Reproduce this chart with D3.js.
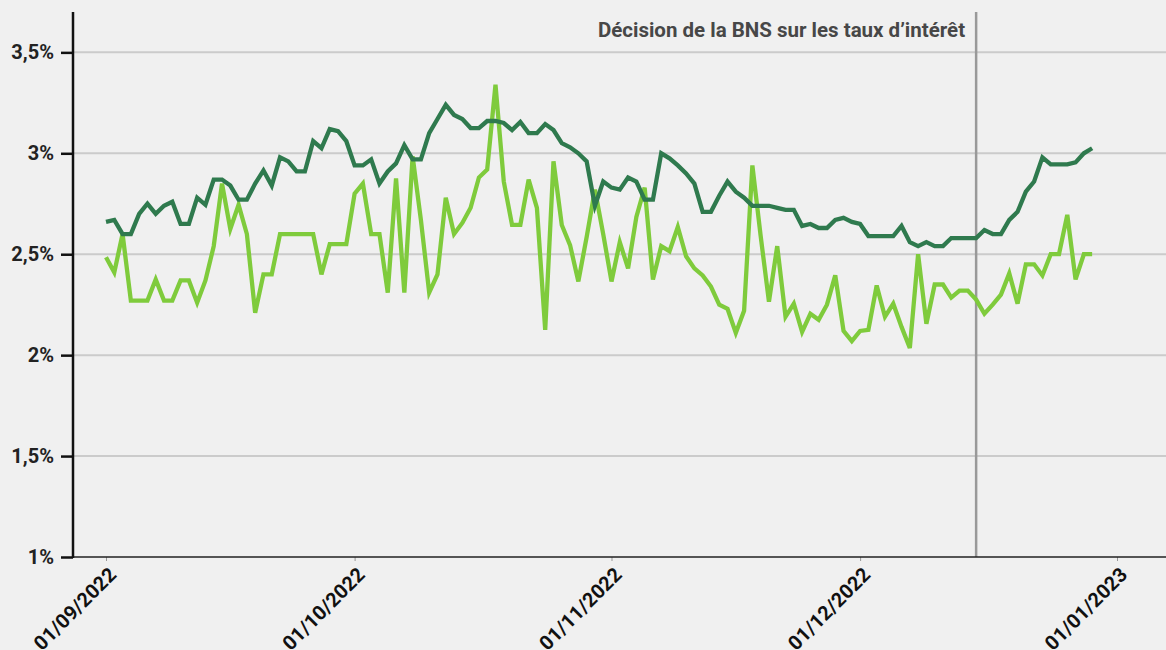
<!DOCTYPE html>
<html>
<head>
<meta charset="utf-8">
<script src="https://cdn.jsdelivr.net/npm/d3@7"></script>
<style>
  html, body { margin: 0; padding: 0; background: #f0f0f0; overflow: hidden; }
  svg { display: block; font-family: Roboto, "Noto Sans", sans-serif; }
</style>
</head>
<body>
<svg id="chart" width="1166" height="650"></svg>
<script>
// ---- Data ----
const startDate = "2022-09-01";
const endDate = "2022-12-29";

const seriesDark = [
  2.66, 2.67, 2.60, 2.60, 2.70, 2.75, 2.70, 2.74, 2.76, 2.65,
  2.65, 2.78, 2.745, 2.87, 2.87, 2.84, 2.77, 2.77, 2.85, 2.915,
  2.84, 2.98, 2.96, 2.91, 2.91, 3.06, 3.025, 3.12, 3.11, 3.06,
  2.94, 2.94, 2.97, 2.85, 2.91, 2.95, 3.04, 2.97, 2.97, 3.10,
  3.17, 3.24, 3.19, 3.17, 3.125, 3.125, 3.16, 3.16, 3.15, 3.115,
  3.155, 3.10, 3.10, 3.145, 3.115, 3.05, 3.03, 3.00, 2.96, 2.74,
  2.86, 2.83, 2.82, 2.88, 2.86, 2.77, 2.77, 3.00, 2.975, 2.94,
  2.90, 2.85, 2.71, 2.71, 2.79, 2.86, 2.81, 2.78, 2.74, 2.74,
  2.74, 2.73, 2.72, 2.72, 2.64, 2.65, 2.63, 2.63, 2.67, 2.68,
  2.66, 2.65, 2.59, 2.59, 2.59, 2.59, 2.64, 2.56, 2.54, 2.56,
  2.54, 2.54, 2.58, 2.58, 2.58, 2.58, 2.62, 2.60, 2.60, 2.67,
  2.71, 2.81, 2.86, 2.98, 2.945, 2.945, 2.945, 2.955, 3.00, 3.025
];

const seriesLight = [
  2.485, 2.41, 2.60, 2.27, 2.27, 2.27, 2.375, 2.27, 2.27, 2.37,
  2.37, 2.26, 2.37, 2.54, 2.85, 2.625, 2.745, 2.60, 2.21, 2.40,
  2.40, 2.60, 2.60, 2.60, 2.60, 2.60, 2.40, 2.55, 2.55, 2.55,
  2.80, 2.85, 2.60, 2.60, 2.31, 2.875, 2.31, 2.985, 2.67, 2.31,
  2.40, 2.78, 2.60, 2.655, 2.73, 2.88, 2.92, 3.34, 2.86, 2.645,
  2.645, 2.87, 2.73, 2.125, 2.96, 2.645, 2.545, 2.365, 2.585, 2.82,
  2.60, 2.365, 2.56, 2.43, 2.685, 2.83, 2.375, 2.54, 2.515, 2.635,
  2.49, 2.43, 2.395, 2.34, 2.25, 2.23, 2.11, 2.22, 2.94, 2.59,
  2.265, 2.54, 2.19, 2.255, 2.115, 2.205, 2.175, 2.25, 2.395, 2.12,
  2.07, 2.12, 2.125, 2.345, 2.19, 2.255, 2.14, 2.035, 2.50, 2.155,
  2.35, 2.35, 2.285, 2.32, 2.32, 2.275, 2.205, 2.25, 2.30, 2.405,
  2.255, 2.45, 2.45, 2.395, 2.50, 2.50, 2.695, 2.375, 2.50, 2.50
];

const xTickDates = ["2022-09-01", "2022-10-01", "2022-11-01", "2022-12-01", "2023-01-01"];
const yTicks = [1, 1.5, 2, 2.5, 3, 3.5];
const yTickLabels = ["1%", "1,5%", "2%", "2,5%", "3%", "3,5%"];
const eventDate = "2022-12-15";
const eventLabel = "Décision de la BNS sur les taux d’intérêt";

// ---- Setup ----
const W = 1166, H = 650;
const parse = d3.timeParse("%Y-%m-%d");
const fmt = d3.timeFormat("%d/%m/%Y");
const dates = d3.timeDay.range(parse(startDate), d3.timeDay.offset(parse(endDate), 1));

const axisX = 73, plotTop = 12, plotBottom = 557;

const x = d3.scaleTime()
  .domain([parse("2022-09-01"), parse("2023-01-01")])
  .range([106, 1117]);
const y = d3.scaleLinear().domain([1, 3.7]).range([plotBottom, plotTop]);

const svg = d3.select("#chart");
svg.append("rect").attr("width", W).attr("height", H).attr("fill", "#f0f0f0");

// gridlines
svg.append("g").selectAll("line")
  .data(yTicks.filter(d => d > 1))
  .join("line")
  .attr("x1", axisX).attr("x2", W)
  .attr("y1", d => y(d)).attr("y2", d => y(d))
  .attr("stroke", "#cbcbcb").attr("stroke-width", 2);

// event line
const ex = x(parse(eventDate));
svg.append("line")
  .attr("x1", ex).attr("x2", ex)
  .attr("y1", plotTop).attr("y2", plotBottom)
  .attr("stroke", "#999").attr("stroke-width", 2.5);
svg.append("text")
  .attr("x", ex - 11).attr("y", 37)
  .attr("text-anchor", "end")
  .attr("font-size", 20.5).attr("font-weight", 700)
  .attr("fill", "#474747")
  .text(eventLabel);

// lines
const line = d3.line()
  .x((d, i) => x(dates[i]))
  .y(d => y(d))
  .curve(d3.curveLinear);

svg.append("path").datum(seriesLight)
  .attr("fill", "none").attr("stroke", "#7fcb3c").attr("stroke-width", 4.3)
  .attr("stroke-linejoin", "miter")
  .attr("d", line);

svg.append("path").datum(seriesDark)
  .attr("fill", "none").attr("stroke", "#2f7a4e").attr("stroke-width", 4.3)
  .attr("stroke-linejoin", "miter")
  .attr("d", line);

// x axis
const xAxis = d3.axisBottom(x)
  .tickValues(xTickDates.map(parse))
  .tickSize(4)
  .tickFormat(fmt);
const gx = svg.append("g").attr("transform", `translate(0,${plotBottom})`).call(xAxis);
gx.select(".domain").remove();
gx.selectAll(".tick line").attr("stroke", "#999").attr("stroke-width", 1);
gx.selectAll(".tick text")
  .attr("font-family", "Roboto, sans-serif")
  .attr("font-size", 20).attr("font-weight", 700).attr("fill", "#111")
  .attr("text-anchor", "end")
  .attr("x", 0).attr("y", 0).attr("dy", 0)
  .attr("transform", "translate(11,19) rotate(-45)");
svg.append("line")
  .attr("x1", axisX).attr("x2", W)
  .attr("y1", plotBottom).attr("y2", plotBottom)
  .attr("stroke", "#222").attr("stroke-width", 1.5);

// y axis
const yAxis = d3.axisLeft(y)
  .tickValues(yTicks)
  .tickSize(12)
  .tickPadding(7)
  .tickFormat((d, i) => yTickLabels[i]);
const gy = svg.append("g").attr("transform", `translate(${axisX},0)`).call(yAxis);
gy.select(".domain").remove();
gy.selectAll(".tick line").attr("stroke", "#111").attr("stroke-width", 2.5);
gy.selectAll(".tick text")
  .attr("font-family", "Roboto, sans-serif")
  .attr("font-size", 20).attr("font-weight", 700).attr("fill", "#222");
svg.append("line")
  .attr("x1", axisX).attr("x2", axisX)
  .attr("y1", plotTop).attr("y2", plotBottom + 1)
  .attr("stroke", "#111").attr("stroke-width", 2.5);
</script>
</body>
</html>
